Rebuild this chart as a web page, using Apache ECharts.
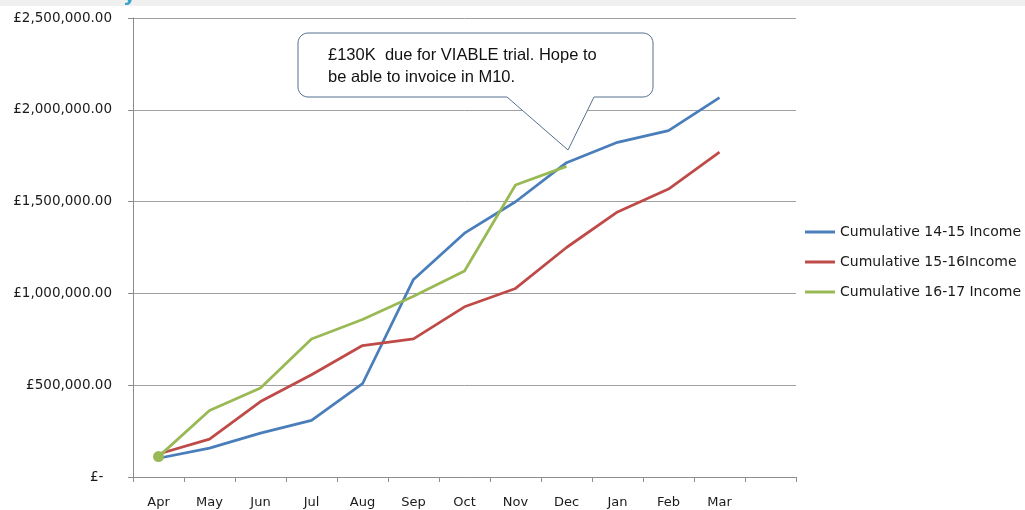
<!DOCTYPE html>
<html>
<head>
<meta charset="utf-8">
<script src="https://cdn.jsdelivr.net/npm/echarts@6/dist/echarts.min.js"></script>
<style>
html,body{margin:0;padding:0;background:#fff;}
#chart{width:1025px;height:510px;}
</style>
</head>
<body>
<div id="chart"></div>
<script>
var months = ['Apr','May','Jun','Jul','Aug','Sep','Oct','Nov','Dec','Jan','Feb','Mar',''];
var income1415 = [102000,157000,239000,308000,508000,1076000,1328000,1499000,1712000,1823000,1887000,2066000];
var income1516 = [125000,206000,411000,557000,716000,752000,927000,1027000,1250000,1444000,1568000,1769000];
var income1617 = [111000,362000,485000,752000,858000,985000,1122000,1590000,1692000];
var seriesNames = ['Cumulative 14-15 Income','Cumulative 15-16Income','Cumulative 16-17 Income'];
var yTicks = [0,500000,1000000,1500000,2000000,2500000];
var calloutLines = ['£130K  due for VIABLE trial. Hope to','be able to invoice in M10.'];

var chart = echarts.init(document.getElementById('chart'));
var font = 'DejaVu Sans';
function fmt(v){
  if (v === 0) return '£-  ';
  return '£' + v.toLocaleString('en-GB',{minimumFractionDigits:2, maximumFractionDigits:2});
}
var green = income1617.map(function(v,i){
  return i === 0 ? {value:v, symbol:'circle', symbolSize:11} : v;
});

// callout outline: rounded box with a pointer tail
function calloutPoints(x0,y0,x1,y1,r,tl,tip,tr){
  var pts = [];
  function arc(cx,cy,a0,a1){
    for (var k=0;k<=6;k++){
      var a = a0 + (a1-a0)*k/6;
      pts.push([cx + r*Math.cos(a), cy + r*Math.sin(a)]);
    }
  }
  arc(x0+r, y0+r, Math.PI, 1.5*Math.PI);
  arc(x1-r, y0+r, 1.5*Math.PI, 2*Math.PI);
  arc(x1-r, y1-r, 0, 0.5*Math.PI);
  pts.push([tr, y1]); pts.push(tip); pts.push([tl, y1]);
  arc(x0+r, y1-r, 0.5*Math.PI, Math.PI);
  return pts;
}

chart.setOption({
  animation:false,
  textStyle:{fontFamily:font},
  grid:{left:133, right:229, top:18, bottom:33, containLabel:false},
  legend:{
    orient:'vertical', left:800, top:220, itemGap:16,
    icon:'rect', itemWidth:30, itemHeight:3,
    textStyle:{fontFamily:font, fontSize:14, color:'#1a1a1a'},
    data:seriesNames
  },
  xAxis:{
    type:'category', data:months, boundaryGap:true,
    axisLine:{lineStyle:{color:'#8c8c8c', width:1}},
    axisTick:{show:true, length:5, lineStyle:{color:'#8c8c8c'}},
    axisLabel:{fontFamily:font, fontSize:13, color:'#1a1a1a', margin:19, interval:0}
  },
  yAxis:{
    type:'value', min:yTicks[0], max:yTicks[yTicks.length-1], interval:yTicks[1]-yTicks[0],
    axisLine:{show:true, lineStyle:{color:'#8c8c8c', width:1}},
    axisTick:{show:true, length:5, lineStyle:{color:'#8c8c8c'}},
    splitLine:{lineStyle:{color:'#a0a0a0', width:1}},
    axisLabel:{fontFamily:font, fontSize:13.5, color:'#1a1a1a', margin:21, formatter:fmt}
  },
  series:[
    {name:seriesNames[0], type:'line', data:income1415, symbol:'none', showSymbol:false,
     itemStyle:{color:'#4a7ebb'}, lineStyle:{color:'#4a7ebb', width:2.75}},
    {name:seriesNames[1], type:'line', data:income1516, symbol:'none', showSymbol:false,
     itemStyle:{color:'#be4b48'}, lineStyle:{color:'#be4b48', width:2.75}},
    {name:seriesNames[2], type:'line', data:green, symbol:'none', showSymbol:true,
     itemStyle:{color:'#98b954'}, lineStyle:{color:'#98b954', width:2.75}}
  ],
  graphic:[
    {type:'rect', left:0, top:0, shape:{width:1025, height:6}, style:{fill:'#f0f0f0'}, z:1},
    {type:'text', x:123, y:-14, style:{text:'y', font:'bold 20px "DejaVu Sans"', fill:'#39a6c8'}, z:2},
    {type:'polygon', z:100,
     shape:{points:calloutPoints(298,33,653,97,10,507,[568,150],594)},
     style:{fill:'#ffffff', stroke:'#54708e', lineWidth:1}},
    {type:'text', z:101, x:328, y:44, style:{text:calloutLines.join('\n'), font:'16.5px "Liberation Sans"', fill:'#111', lineHeight:22}}
  ]
});
</script>
</body>
</html>
